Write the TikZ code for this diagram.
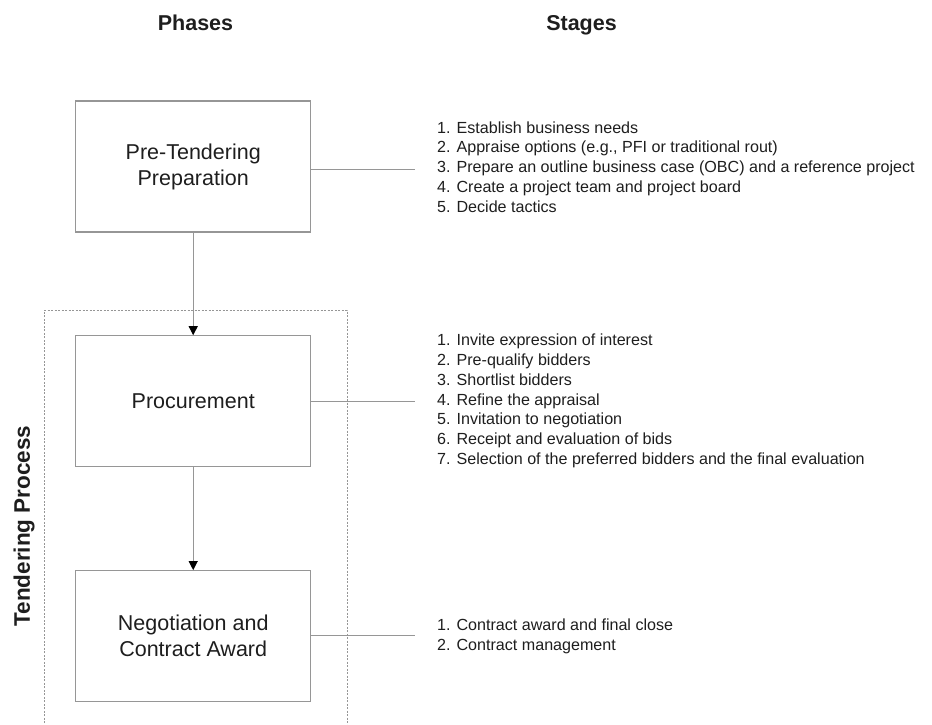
\documentclass[tikz,border=0pt]{standalone}
\usepackage{fontspec}
\setmainfont{Liberation Sans}
\usetikzlibrary{arrows.meta}
\definecolor{linegray}{RGB}{150,150,150}
\definecolor{txt}{RGB}{30,30,30}
\tikzset{
  phasebox/.style={draw=linegray, line width=1.2pt, minimum width=235pt, minimum height=131pt,
    align=center, text=txt, inner sep=0pt, font=\fontsize{21.5}{26}\selectfont},
  heading/.style={font=\bfseries\fontsize{21.5}{26}\selectfont, text=txt, inner sep=0pt, anchor=base},
  stagelist/.style={anchor=west, align=left, inner sep=0pt, text=txt, font=\fontsize{16.1}{19.8}\selectfont},
  link/.style={draw=linegray, line width=1pt},
  flow/.style={draw=linegray, line width=1pt, -{Triangle[length=9pt,width=9pt,color=black]}},
  group/.style={draw=linegray, line width=0.8pt, dash pattern=on 2pt off 1.5pt}
}
\begin{document}
\begin{tikzpicture}[x=1pt,y=-1pt]
\useasboundingbox (0,0) rectangle (932,724);
\node[heading] (hphases) at (195.5,30) {Phases};
\node[heading] (hstages) at (581.5,30) {Stages};

\draw[group] (44,730) -- (44,310) -- (347,310) -- (347,730);
\node[font=\bfseries\fontsize{22.5}{26}\selectfont, text=txt, rotate=90, inner sep=0pt] (tend) at (24,526) {Tendering Process};

\node[phasebox] (p1) at (193.2,166.5) {Pre-Tendering\\Preparation};
\node[phasebox] (p2) at (193.2,401.3) {Procurement};
\node[phasebox] (p3) at (193.2,636.2) {Negotiation and\\Contract Award};

\draw[flow] (p1.south) -- (p2.north);
\draw[flow] (p2.south) -- (p3.north);

\coordinate (e1) at (415,169);
\coordinate (e2) at (415,401);
\coordinate (e3) at (415,635.5);
\draw[link] (p1.east |- e1) -- (e1);
\draw[link] (p2.east |- e2) -- (e2);
\draw[link] (p3.east |- e3) -- (e3);

\node[stagelist] (s1) at (437,167) {1. Establish business needs\\2. Appraise options (e.g., PFI or traditional rout)\\3. Prepare an outline business case (OBC) and a reference project\\4. Create a project team and project board\\5. Decide tactics};
\node[stagelist] (s2) at (437,401) {1. Invite expression of interest\\2. Pre-qualify bidders\\3. Shortlist bidders\\4. Refine the appraisal\\5. Invitation to negotiation\\6. Receipt and evaluation of bids\\7. Selection of the preferred bidders and the final evaluation};
\node[stagelist] (s3) at (437,636.5) {1. Contract award and final close\\2. Contract management};
\end{tikzpicture}
\end{document}
